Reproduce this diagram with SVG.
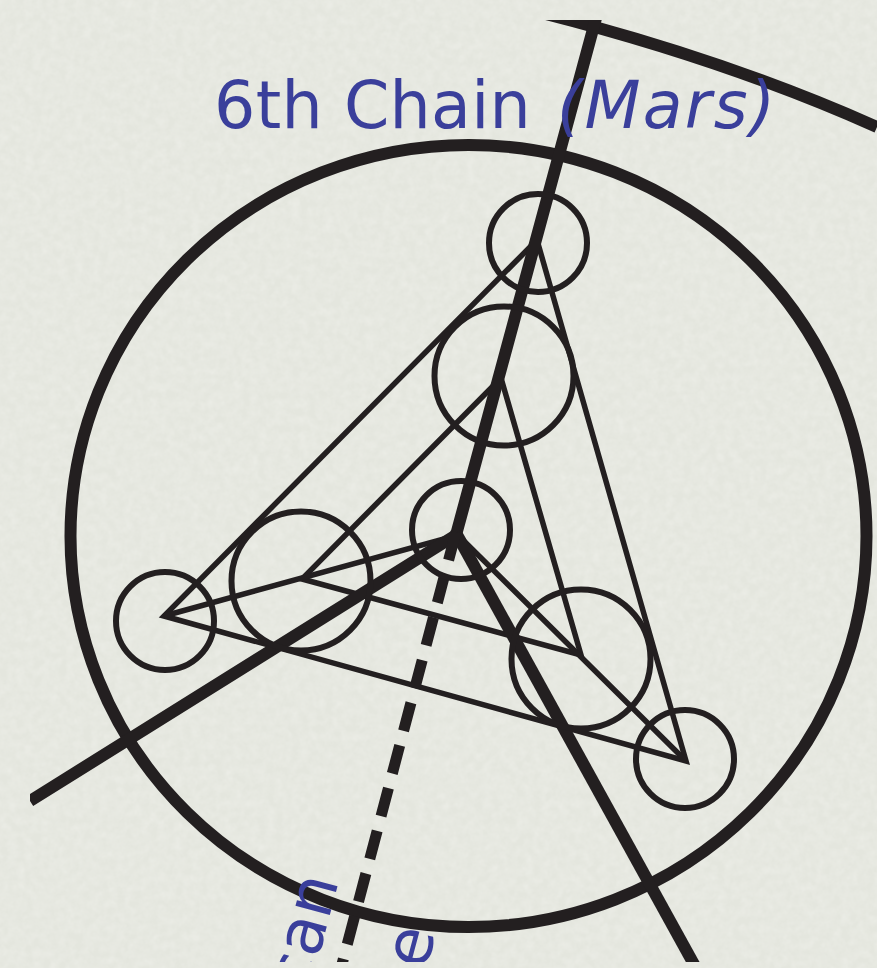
<svg xmlns="http://www.w3.org/2000/svg" width="877" height="968" viewBox="0 0 877 968">
<defs>
<style>
.k{fill:none;stroke:#231f20;stroke-linecap:butt}
.thin{stroke-width:5.5}
.thick{stroke-width:12}
.ring{fill:none;stroke:#231f20;stroke-width:6}
.t{font-family:"DejaVu Sans",sans-serif;font-size:65px;fill:#3a3f9b}
</style>
<filter id="paper" x="0" y="0" width="100%" height="100%"><feTurbulence type="fractalNoise" baseFrequency="0.12" numOctaves="3" seed="4"/><feColorMatrix values="0 0 0 0 0.84  0 0 0 0 0.85  0 0 0 0 0.80  0.9 0.9 0 0 -0.62"/></filter>
<clipPath id="c"><rect x="30" y="20" width="847" height="942"/></clipPath>
</defs>
<rect width="877" height="968" fill="#e4e6de"/>
<rect width="877" height="968" filter="url(#paper)"/>
<g id="connectors" clip-path="url(#c)">
<path class="k thick" d="M530 10Q720 57 877 127"/>
<ellipse class="k thick" cx="468.5" cy="536" rx="398" ry="391"/>
<path class="k thin" d="M537 240L164 616L686 761Z"/>
<path class="k thin" d="M501 378L302 579L581 655Z"/>
<path class="k thin" d="M164 616L458 535L686 761"/>
<path class="k thick" d="M598.2 10L456 535L30 801"/>
<path class="k thick" d="M456 533L696 968"/>
<path class="k" stroke-width="11" stroke-dasharray="29 15.15" d="M456 532L341 968"/>
</g>
<g id="node-1"><circle class="ring" cx="538" cy="243" r="49"/></g>
<g id="node-2"><circle class="ring" cx="504" cy="376" r="69.5"/></g>
<g id="node-3"><circle class="ring" cx="461" cy="530" r="49"/></g>
<g id="node-4"><circle class="ring" cx="301" cy="581" r="69.5"/></g>
<g id="node-5"><circle class="ring" cx="165" cy="621" r="49"/></g>
<g id="node-6"><circle class="ring" cx="581" cy="659" r="69.5"/></g>
<g id="node-7"><circle class="ring" cx="685" cy="759" r="49"/></g>
<g id="labels" clip-path="url(#c)">
<text class="t" x="214" y="128" letter-spacing="0.3">6th Chain <tspan x="557" font-style="italic" letter-spacing="2.2">(Mars)</tspan></text>
<text class="t" transform="translate(339,881) rotate(-75)" text-anchor="end">can</text>
<text class="t" transform="translate(431,952) rotate(-75)" text-anchor="middle">e</text>
</g>
</svg>
